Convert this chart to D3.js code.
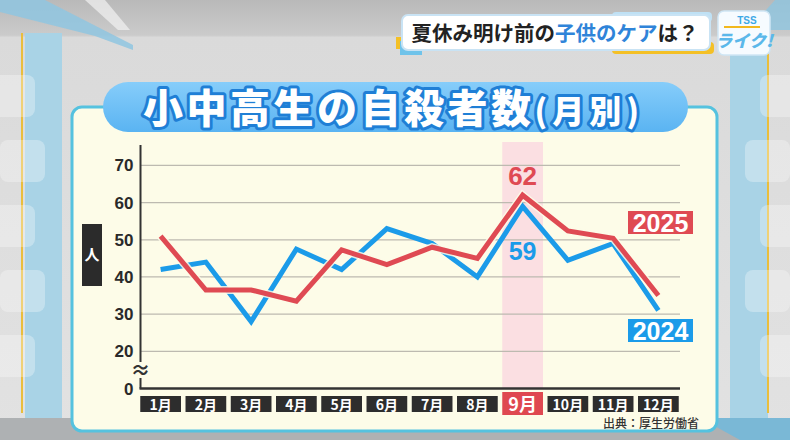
<!DOCTYPE html>
<html>
<head>
<meta charset="utf-8">
<script src="https://cdn.jsdelivr.net/npm/d3@7"></script>
<style>
  body { margin: 0; background: #ddd; }
  svg { display: block; }
  text { font-family: "Liberation Sans", Arial, sans-serif; }
  .jp { font-family: "Noto Sans CJK JP", sans-serif; }
</style>
</head>
<body>
<div class="chart"></div>
<script>
const months = ["1月", "2月", "3月", "4月", "5月", "6月", "7月", "8月", "9月", "10月", "11月", "12月"];
const deaths2024 = [42, 44, 28, 47.5, 42, 53, 49, 40, 59, 44.5, 49, 31];
const deaths2025 = [51, 36.5, 36.5, 33.5, 47.3, 43.3, 48, 45, 62, 52.4, 50.4, 35];
const yTicks = [20, 30, 40, 50, 60, 70];
const highlight = "9月";

const width = 790, height = 440;
const blue = "#1b9be9", red = "#df4a53";

const svg = d3.select("div.chart").append("svg")
    .attr("width", width)
    .attr("height", height);

const defs = svg.append("defs");
const bgGrad = defs.append("linearGradient").attr("id", "bg").attr("x1", 0).attr("y1", 0).attr("x2", 0).attr("y2", 1);
bgGrad.append("stop").attr("offset", "0").attr("stop-color", "#b9b9b9");
bgGrad.append("stop").attr("offset", "0.08").attr("stop-color", "#cbcbcb");
bgGrad.append("stop").attr("offset", "0.085").attr("stop-color", "#dadada");
bgGrad.append("stop").attr("offset", "1").attr("stop-color", "#e2e2e2");
const pillGrad = defs.append("linearGradient").attr("id", "pill").attr("x1", 0).attr("y1", 0).attr("x2", 0).attr("y2", 1);
pillGrad.append("stop").attr("offset", "0").attr("stop-color", "#86cdfa");
pillGrad.append("stop").attr("offset", "1").attr("stop-color", "#5ab4f2");

// studio background
svg.append("rect").attr("width", width).attr("height", height).attr("fill", "url(#bg)");
svg.append("path").attr("d", "M0,0 L45,0 L133,45 L133,50 L95,36 L0,12 Z").attr("fill", "#8fc6e0").attr("opacity", 0.85);
svg.append("path").attr("d", "M85,0 L105,0 L130,30 L118,30 Z").attr("fill", "#f2f2f2").attr("opacity", 0.7);
svg.append("path").attr("d", "M775,0 L790,0 L790,30 L748,30 Z").attr("fill", "#8fc6e0").attr("opacity", 0.8);
svg.append("rect").attr("x", 25).attr("y", 33).attr("width", 37).attr("height", 385).attr("fill", "#a9d3e6");
svg.append("rect").attr("x", 730).attr("y", 33).attr("width", 38).attr("height", 385).attr("fill", "#a9d3e6");
svg.append("rect").attr("x", 21).attr("y", 33).attr("width", 2).attr("height", 380).attr("fill", "#e9be3c");
svg.append("rect").attr("x", 767).attr("y", 33).attr("width", 2).attr("height", 380).attr("fill", "#e9be3c");
[75, 140, 205, 270, 335].forEach((y, i) => {
    svg.append("rect").attr("x", i % 2 ? 0 : -10).attr("y", y).attr("width", 45).attr("height", 42)
        .attr("rx", 8).attr("fill", "#fff").attr("opacity", 0.3);
    svg.append("rect").attr("x", i % 2 ? 745 : 760).attr("y", y).attr("width", 45).attr("height", 42)
        .attr("rx", 8).attr("fill", "#fff").attr("opacity", 0.3);
});
svg.append("rect").attr("x", 0).attr("y", 418).attr("width", width).attr("height", 22).attr("fill", "#aeb1b3");
svg.append("path").attr("d", "M700,418 L790,418 L790,440 L740,440 Z").attr("fill", "#7ab8d6");

// chart panel
svg.append("rect")
    .attr("x", 72).attr("y", 107).attr("width", 645).attr("height", 324).attr("rx", 10)
    .attr("fill", "#fdfce8").attr("stroke", "#55c2df").attr("stroke-width", 3);

// title pill
svg.append("rect")
    .attr("x", 103).attr("y", 82).attr("width", 585).attr("height", 50).attr("rx", 25)
    .attr("fill", "url(#pill)");
const title = svg.append("text").attr("class", "jp")
    .attr("x", 143).attr("y", 123)
    .attr("fill", "#fff").attr("stroke", "#1f7fd6").attr("stroke-width", 6)
    .attr("stroke-linejoin", "round")
    .attr("paint-order", "stroke").attr("font-weight", 900);
title.append("tspan").attr("font-size", 40).attr("letter-spacing", 3.5).text("小中高生の自殺者数");
title.append("tspan").attr("font-size", 32).attr("letter-spacing", 5).attr("dx", 0).text("(月別)");

// caption box top right
svg.append("rect").attr("x", 396).attr("y", 37).attr("width", 22).attr("height", 12).attr("fill", "#f4c026");
svg.append("rect").attr("x", 400).attr("y", 41).attr("width", 22).attr("height", 14).attr("fill", "#6fc3ea");
svg.append("rect").attr("x", 612).attr("y", 42).attr("width", 102).attr("height", 12).attr("rx", 4).attr("fill", "#f4c026");
svg.append("rect").attr("x", 612).attr("y", 12).attr("width", 100).attr("height", 10).attr("rx", 4).attr("fill", "#bfe1f5");
svg.append("rect")
    .attr("x", 402).attr("y", 15).attr("width", 308).attr("height", 35).attr("rx", 6)
    .attr("fill", "#fff").attr("stroke", "#c9e3f4").attr("stroke-width", 2);
const caption = svg.append("text").attr("class", "jp")
    .attr("x", 555).attr("y", 41).attr("text-anchor", "middle")
    .attr("font-size", 20.5).attr("font-weight", 700).attr("fill", "#222");
caption.append("tspan").text("夏休み明け前の");
caption.append("tspan").attr("fill", "#2f84d9").text("子供のケア");
caption.append("tspan").text("は？");

// logo
svg.append("rect")
    .attr("x", 718).attr("y", 11).attr("width", 52).attr("height", 44).attr("rx", 6)
    .attr("fill", "#f6fbff").attr("stroke", "#cfe6f5").attr("stroke-width", 1.5);
svg.append("text").attr("x", 747).attr("y", 24).attr("text-anchor", "middle")
    .attr("font-size", 10).attr("font-weight", 700).attr("fill", "#3ea9e6").text("TSS");
svg.append("rect").attr("x", 724).attr("y", 26).attr("width", 36).attr("height", 2).attr("fill", "#f2b81e");
svg.append("text").attr("class", "jp").attr("x", 744).attr("y", 47).attr("text-anchor", "middle")
    .attr("font-size", 17).attr("font-weight", 900).attr("font-style", "italic")
    .attr("fill", "#5bb8ea").text("ライク!");

// scales
const x = d3.scaleBand().domain(months).range([138, 681]).paddingInner(0.1).paddingOuter(0.05);
const y = d3.scaleLinear().domain([10, 75.5]).range([388.5, 145]);
const cx = m => x(m) + x.bandwidth() / 2;

// highlight column
svg.append("rect")
    .attr("x", x(highlight)).attr("width", x.bandwidth())
    .attr("y", 142).attr("height", y(10) - 142)
    .attr("fill", "#fbdfe2");

// gridlines
svg.append("g")
    .selectAll("line")
    .data(yTicks)
    .join("line")
    .attr("x1", 140).attr("x2", 680)
    .attr("y1", d => y(d)).attr("y2", d => y(d))
    .attr("stroke", "#bdbab0").attr("stroke-width", 1.3);

// y axis with labels
const yAxis = svg.append("g")
    .attr("transform", "translate(140.5,0)")
    .call(d3.axisLeft(y).tickValues(yTicks).tickSize(0).tickPadding(7));
yAxis.select(".domain").remove();
yAxis.selectAll("text")
    .attr("font-family", "Liberation Sans, Arial, sans-serif")
    .attr("font-size", 17).attr("font-weight", 700).attr("fill", "#2a2a2a");
svg.append("text").attr("x", 133.5).attr("y", y(10) + 6).attr("text-anchor", "end")
    .attr("font-size", 17).attr("font-weight", 700).attr("fill", "#2a2a2a").text("0");
svg.append("line").attr("x1", 140.5).attr("x2", 140.5).attr("y1", 145).attr("y2", y(10))
    .attr("stroke", "#333").attr("stroke-width", 2);
svg.append("line").attr("x1", 139.5).attr("x2", 680).attr("y1", y(10)).attr("y2", y(10))
    .attr("stroke", "#333").attr("stroke-width", 2.5);
svg.append("rect").attr("x", 133).attr("y", 362).attr("width", 15).attr("height", 16).attr("fill", "#fdfce8");
svg.append("text").attr("class", "jp").attr("x", 140.5).attr("y", 378).attr("text-anchor", "middle")
    .attr("font-size", 20).attr("font-weight", 700).attr("fill", "#333").text("≈");

// unit label
svg.append("rect").attr("x", 82).attr("y", 224).attr("width", 20).attr("height", 62).attr("fill", "#2b2b2b");
svg.append("text").attr("class", "jp").attr("x", 92).attr("y", 260).attr("text-anchor", "middle")
    .attr("font-size", 15).attr("font-weight", 700).attr("fill", "#fff").text("人");

// month labels
const monthG = svg.append("g")
    .selectAll("g")
    .data(months)
    .join("g");
monthG.append("rect")
    .attr("x", d => x(d)).attr("width", x.bandwidth())
    .attr("y", d => d === highlight ? 392 : 396)
    .attr("height", d => d === highlight ? 23 : 16)
    .attr("fill", d => d === highlight ? "#df4850" : "#2d2d2d");
monthG.append("text").attr("class", "jp")
    .attr("x", d => cx(d))
    .attr("y", d => d === highlight ? 410.5 : 409.5)
    .attr("text-anchor", "middle")
    .attr("font-size", d => d === highlight ? 18 : 14)
    .attr("font-weight", 700).attr("fill", "#fff")
    .text(d => d);

// lines
const line = d3.line().x((d, i) => cx(months[i])).y(d => y(d));
svg.append("path").datum(deaths2024).attr("d", line)
    .attr("fill", "none").attr("stroke", blue).attr("stroke-width", 5).attr("stroke-linejoin", "miter");
svg.append("path").datum(deaths2025).attr("d", line)
    .attr("fill", "none").attr("stroke", "#fdfce8").attr("stroke-opacity", 0.85).attr("stroke-width", 8);
svg.append("path").datum(deaths2025).attr("d", line)
    .attr("fill", "none").attr("stroke", red).attr("stroke-width", 5).attr("stroke-linejoin", "miter");

// value labels for highlighted month
const hi = months.indexOf(highlight);
svg.append("text").attr("x", cx(highlight)).attr("y", 185).attr("text-anchor", "middle")
    .attr("font-size", 26).attr("font-weight", 700).attr("fill", red).text(deaths2025[hi]);
svg.append("text").attr("x", cx(highlight)).attr("y", 260).attr("text-anchor", "middle")
    .attr("font-size", 25).attr("font-weight", 700).attr("fill", blue).text(deaths2024[hi]);

// series tags
const tags = [
    { name: "2025", color: red, y: 211 },
    { name: "2024", color: blue, y: 319 }
];
tags.forEach(t => {
    svg.append("rect").attr("x", 628).attr("y", t.y).attr("width", 65).attr("height", 23).attr("fill", t.color);
    svg.append("text").attr("x", 660.5).attr("y", t.y + 20.5).attr("text-anchor", "middle")
        .attr("font-size", 25).attr("font-weight", 700).attr("fill", "#fff").text(t.name);
});

// source
svg.append("text").attr("class", "jp").attr("x", 699).attr("y", 428).attr("text-anchor", "end")
    .attr("font-size", 12).attr("font-weight", 500).attr("fill", "#333").text("出典：厚生労働省");
</script>
</body>
</html>
